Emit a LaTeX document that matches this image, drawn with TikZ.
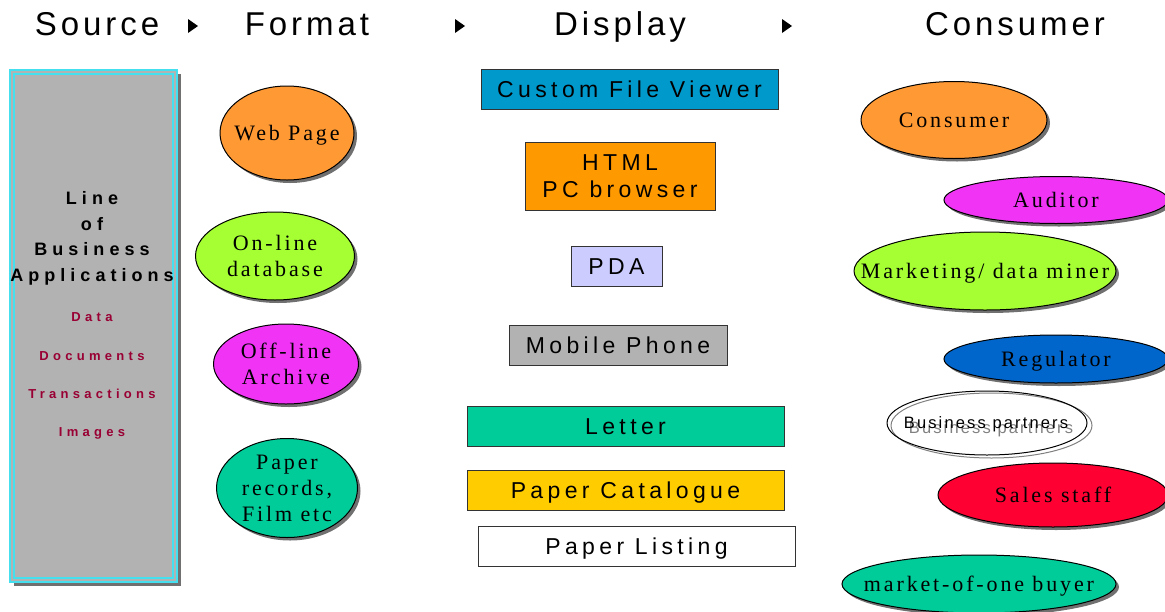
\documentclass[tikz,border=0pt]{standalone}
\usepackage{fontspec}
\usetikzlibrary{shapes.geometric,shadows}
\newfontfamily\hdfont[LetterSpace=12]{Liberation Sans}
\newfontfamily\sfw[LetterSpace=19]{Liberation Sans}
\newfontfamily\sfbw[LetterSpace=28]{Liberation Sans}
\newfontfamily\sfbi[LetterSpace=33]{Liberation Sans}
\newfontfamily\sfn[LetterSpace=13]{Liberation Sans}
\newfontfamily\rmw[LetterSpace=13]{Liberation Serif}
\definecolor{corange}{HTML}{FF9933}
\definecolor{cgreen}{HTML}{A6FF33}
\definecolor{cmagenta}{HTML}{F033F5}
\definecolor{cteal}{HTML}{00CC99}
\definecolor{cblue}{HTML}{0066CC}
\definecolor{cred}{HTML}{FF0033}
\definecolor{cviewer}{HTML}{0099CC}
\definecolor{chtml}{HTML}{FF9900}
\definecolor{cpda}{HTML}{CCCCFF}
\definecolor{cgray}{HTML}{B2B2B2}
\definecolor{ccat}{HTML}{FFCC00}
\definecolor{ccyan}{HTML}{44E0F0}
\definecolor{cmaroon}{HTML}{990033}
\definecolor{cshadow}{HTML}{707070}
\tikzset{
  hdr/.style={inner sep=0pt, text height=23.6pt, text depth=0pt, font=\hdfont\fontsize{33}{38}\selectfont},
  tri/.style={fill=black},
  srcbox/.style={rectangle, fill=cgray, minimum width=167pt, minimum height=512pt, inner sep=0pt,
     drop shadow={shadow xshift=4pt, shadow yshift=-4pt, fill=cshadow, opacity=1}},
  srcline/.style={draw=ccyan, line width=1.6pt},
  srctitle/.style={inner sep=0pt, align=center, text height=90.1pt, text depth=0pt,
     font=\sfbw\bfseries\fontsize{18}{25.7}\selectfont},
  srcitem/.style={inner sep=0pt, text=cmaroon, text height=9.4pt, text depth=0pt,
     font=\sfbi\bfseries\fontsize{13}{15}\selectfont},
  ell/.style={ellipse, draw=black, line width=1pt, inner sep=0pt,
     drop shadow={shadow xshift=3pt, shadow yshift=-3pt, fill=cshadow, opacity=1}},
  lbl/.style={inner sep=0pt, align=center, text height=14.6pt, text depth=0pt,
     font=\rmw\fontsize{22}{25.7}\selectfont},
  lbltwo/.style={lbl, text height=40.3pt},
  lblthree/.style={lbl, text height=66pt},
  disp/.style={rectangle, draw=black!80, line width=0.8pt, inner sep=0pt, align=center,
     text height=16.5pt, text depth=0pt, font=\sfw\fontsize{23}{27}\selectfont},
  bp/.style={inner sep=0pt, text height=11.8pt, text depth=0pt, font=\sfn\fontsize{16.5}{18}\selectfont},
}
\begin{document}
\begin{tikzpicture}[x=1pt,y=-1pt]
\useasboundingbox (0,0) rectangle (1165,611);
\clip (0,0) rectangle (1165,611);
% headers
\node[hdr] (hsource) at (97,23.7) {Source};
\node[hdr] (hformat) at (307,23.7) {Form\kern4pt at};
\node[hdr] (hdisplay) at (620,23.7) {Display};
\node[hdr] (hconsumer) at (1015,23.7) {Consum\kern4pt er};
\fill[tri] (188,19) -- (198,26) -- (188,33) -- cycle;
\fill[tri] (455,19) -- (465,26) -- (455,33) -- cycle;
\fill[tri] (782,19) -- (792,26) -- (782,33) -- cycle;
% source box
\node[srcbox] (src) at (93.5,326) {};
\draw[srcline] (src.north west) rectangle (src.south east);
\draw[srcline] ([xshift=4pt,yshift=-4pt]src.north west) rectangle ([xshift=-4pt,yshift=4pt]src.south east);
\node[srctitle] (lob) at (92,236.5) {Line\\of\\Business\\Applications};
\node[srcitem] (data) at (92,317) {Data};
\node[srcitem] (docs) at (92,356) {Documents};
\node[srcitem] (trans) at (92,394) {Transactions};
\node[srcitem] (imgs) at (92,432) {Images};
% format
\node[ell, fill=corange, minimum width=134pt, minimum height=94pt,
  label={[lbl]center:Web Page}] (web) at (287,133) {};
\node[ell, fill=cgreen, minimum width=159pt, minimum height=88pt,
  label={[lbltwo]center:On-line\\database}] (online) at (275,256) {};
\node[ell, fill=cmagenta, minimum width=145pt, minimum height=80pt,
  label={[lbltwo]center:Off-line\\Archive}] (offline) at (286,364) {};
\node[ell, fill=cteal, minimum width=141pt, minimum height=99pt,
  label={[lblthree]center:Paper\\records,\\Film etc}] (paper) at (287,488) {};
% display
\node[disp, fill=cviewer, minimum width=297pt, minimum height=40pt] (viewer) at (629.5,89) {Custom File Viewer};
\node[disp, fill=chtml, minimum width=190pt, minimum height=68pt, text height=43.5pt] (html) at (620,176) {HTML\\PC browser};
\node[disp, fill=cpda, minimum width=91pt, minimum height=40pt] (pda) at (616.5,266) {PDA};
\node[disp, fill=cgray, minimum width=218pt, minimum height=40pt] (mobile) at (618,345) {Mobile Phone};
\node[disp, fill=cteal, minimum width=317pt, minimum height=40pt] (letter) at (625.5,426) {Letter};
\node[disp, fill=ccat, minimum width=317pt, minimum height=40pt] (catalogue) at (625.5,490) {Paper Catalogue};
\node[disp, fill=white, minimum width=317pt, minimum height=40pt] (listing) at (636.5,546) {Paper Listing};
% consumers
\node[ell, fill=corange, minimum width=186pt, minimum height=77pt,
  label={[lbl]center:Consumer}] (consumer) at (954,120) {};
\node[ell, fill=cmagenta, minimum width=224pt, minimum height=47pt,
  label={[lbl]center:Auditor}] (auditor) at (1056,200) {};
\node[ell, fill=cgreen, minimum width=262pt, minimum height=78pt,
  label={[lbl]center:Marketing/ data miner}] (marketing) at (985,271) {};
\node[ell, fill=cblue, minimum width=224pt, minimum height=48pt,
  label={[lbl]center:Regulator}] (regulator) at (1056,359) {};
\node[ellipse, draw=gray, line width=1pt, minimum width=201pt, minimum height=65pt, inner sep=0pt] (partnersouter) at (991.5,425.5) {};
\node[ellipse, draw=black, line width=1pt, minimum width=200pt, minimum height=64pt, inner sep=0pt] (partners) at (987,423) {};
\node[bp, text=gray] (partnersshadow) at (991,427.5) {Business partners};
\node[bp, text=black] (partnerstext) at (986,423) {Business partners};
\node[ell, fill=cred, minimum width=230pt, minimum height=64pt,
  label={[lbl]center:Sales staff}] (sales) at (1053,495) {};
\node[ell, fill=cteal, minimum width=274pt, minimum height=58pt,
  label={[lbl]center:market-of-one buyer}] (buyer) at (979,584) {};
\end{tikzpicture}
\end{document}
